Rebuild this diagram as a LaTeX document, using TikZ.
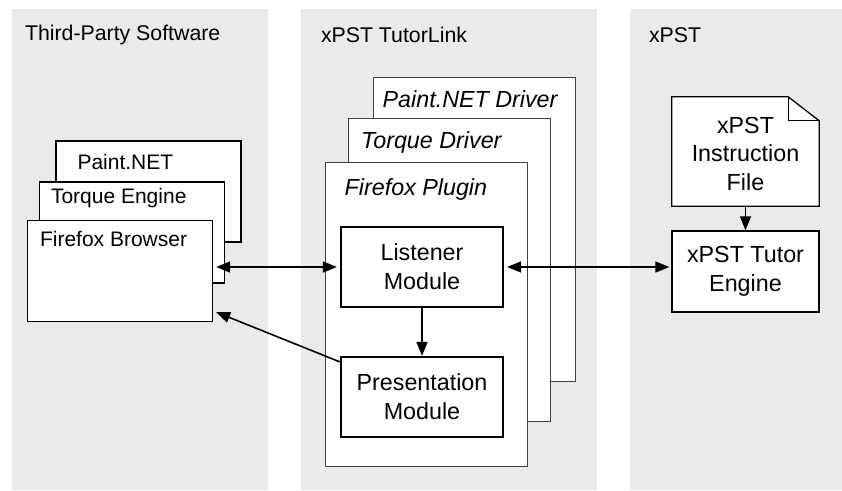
\documentclass[tikz,border=0pt]{standalone}
\usepackage{fontspec}
\setmainfont{Liberation Sans}
\usetikzlibrary{calc}
\usetikzlibrary{positioning}
\usetikzlibrary{arrows.meta}
\definecolor{panelgray}{HTML}{EAEAEA}
\tikzstyle{panel} = [fill=panelgray, inner sep=0pt, minimum height=481pt]
\tikzstyle{paneltitle} = [anchor=west, inner sep=0pt, font=\fontsize{21.3}{25}\selectfont]
\tikzstyle{appnode} = [draw, fill=white, line width=1.3pt, minimum width=185pt, minimum height=101pt]
\tikzstyle{applabel} = [anchor=west, inner sep=0pt, font=\fontsize{21}{25}\selectfont]
\tikzstyle{drivernode} = [draw=black!75, fill=white, line width=1pt, minimum width=202pt, minimum height=303pt]
\tikzstyle{driverlabel} = [anchor=west, inner sep=0pt, font=\fontsize{23.3}{29}\selectfont\itshape]
\tikzstyle{modnode} = [draw, fill=white, line width=2.2pt, minimum width=162pt, minimum height=80pt, align=center, font=\fontsize{23.3}{29}\selectfont]
\tikzstyle{flow} = [line width=1.6pt, -{Triangle[length=14pt,width=11pt]}]
\tikzstyle{biflow} = [line width=1.6pt, {Triangle[length=14pt,width=11pt]}-{Triangle[length=14pt,width=11pt]}]

\begin{document}
\begin{tikzpicture}[x=1pt, y=1pt]
\useasboundingbox (0,0) rectangle (842,490);

% columns
\node[panel, minimum width=256pt] (soft) at (140,240.5) {};
\node[panel, minimum width=296pt] (link) at (449,240.5) {};
\node[panel, minimum width=212pt] (xpst) at (736,240.5) {};
\node[paneltitle] (soft_title) at ($(soft.north west)+(13,-26)$) {Third-Party Software};
\node[paneltitle] (link_title) at ($(link.north west)+(20,-26)$) {xPST TutorLink};
\node[paneltitle] (xpst_title) at ($(xpst.north west)+(19,-26)$) {xPST};

% third-party applications
\node[appnode] (paint) at (148.5,298.5) {};
\node[applabel] (paint_lbl) at ($(paint.north west)+(22,-22)$) {Paint.NET};
\node[appnode] (torque) at ($(paint)+(-16.5,-41)$) {};
\node[applabel] (torque_lbl) at ($(torque.north west)+(12,-17)$) {Torque Engine};
\node[appnode] (firefox) at ($(torque)+(-12,-38.5)$) {};
\node[applabel] (firefox_lbl) at ($(firefox.north west)+(13,-19)$) {Firefox Browser};

% tutorlink drivers
\node[drivernode] (pdrv) at (474,260.5) {};
\node[driverlabel] (pdrv_lbl) at ($(pdrv.north west)+(10,-22)$) {Paint.NET Driver};
\node[drivernode] (tdrv) at ($(pdrv)+(-24.5,-40.5)$) {};
\node[driverlabel] (tdrv_lbl) at ($(tdrv.north west)+(13,-24)$) {Torque Driver};
\node[drivernode] (fplug) at ($(tdrv)+(-23.5,-44.5)$) {};
\node[driverlabel] (fplug_lbl) at ($(fplug.north west)+(20,-27)$) {Firefox Plugin};

\node[modnode] (listener) at (422,223) {Listener\\Module};
\node[modnode] (pres) at ($(listener)+(0,-130)$) {Presentation\\Module};

% xpst
\node[minimum width=147pt, minimum height=109pt] (instr) at (745.5,338.5) {};
\draw[line width=1.3pt, fill=white] (instr.north west) -- ($(instr.north east)+(-31,0)$) -- ($(instr.north east)+(0,-24)$) -- (instr.south east) -- (instr.south west) -- cycle;
\draw[line width=1.3pt] ($(instr.north east)+(-31,0)$) |- ($(instr.north east)+(0,-24)$);
\node[align=center, font=\fontsize{23.3}{28.5}\selectfont] (instr_txt) at ($(instr)+(0,-2)$) {xPST\\Instruction\\File};
\node[modnode, line width=1.3pt, minimum width=147pt, minimum height=81pt] (engine) at (745.5,218.5) {xPST Tutor\\Engine};

% connectors
\draw[biflow, shorten <=3pt, shorten >=3pt] (listener.west) -- (listener.west -| firefox.east);
\draw[biflow, shorten <=3pt, shorten >=2pt] (listener.east) -- (listener.east -| engine.west);
\draw[flow] (listener.south) -- (pres.north);
\draw[flow] ($(pres.north west)+(0,-6)$) -- ($(firefox.south east)+(3,10)$);
\draw[flow] (instr.south) -- (engine.north);
\end{tikzpicture}
\end{document}
